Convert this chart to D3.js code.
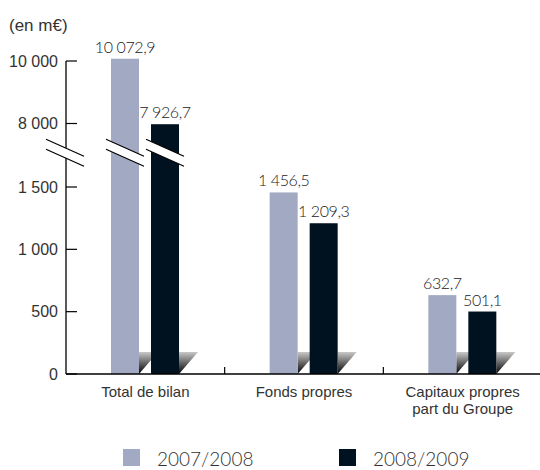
<!DOCTYPE html>
<html>
<head>
<meta charset="utf-8">
<script src="https://cdn.jsdelivr.net/npm/d3@7"></script>
<style>
  body { margin: 0; background: #fff; }
  .narrow { font-family: "Liberation Sans Narrow", "Arial Narrow", sans-serif; font-weight: normal; }
</style>
</head>
<body>
<div id="chart"></div>
<script>
// data
var categories = [["Total de bilan"], ["Fonds propres"], ["Capitaux propres", "part du Groupe"]];
var series = ["2007/2008", "2008/2009"];
var values2008 = [10072.9, 1456.5, 632.7];
var values2009 = [7926.7, 1209.3, 501.1];
var yTicks = [0, 500, 1000, 1500, 8000, 10000];
var breakValue = 5000;

var colors = ["#a2aac3", "#00111f"];

var fr = d3.formatLocale({ decimal: ",", thousands: " ", grouping: [3], currency: ["", "€"] });
var fmtTick = fr.format(",d");
var fmtVal = fr.format(",.1f");

var svg = d3.select("#chart").append("svg").attr("width", 540).attr("height", 470);

var defs = svg.append("defs");
var grad = defs.append("linearGradient").attr("id", "shadow").attr("x1", 0).attr("y1", 0).attr("x2", 0).attr("y2", 1);
grad.append("stop").attr("offset", "0%").attr("stop-color", "#c8c8c8");
grad.append("stop").attr("offset", "100%").attr("stop-color", "#000");

// scales (broken axis: two linear pieces)
var y = d3.scaleLinear().domain([0, 1500, 8000, 10000]).range([374, 187, 123.5, 61]);
var x0 = d3.scaleBand().domain(d3.range(categories.length)).range([66, 542]);
var x1 = d3.scaleBand().domain([0, 1]).range([45, 113]).paddingInner(0.3);

// y axis
var yAxis = d3.axisLeft(y).tickValues(yTicks).tickFormat(fmtTick).tickSize(0).tickPadding(8);
var gy = svg.append("g").attr("transform", "translate(66,0)").call(yAxis);
gy.select(".domain").remove();
gy.selectAll("text").attr("class", "narrow").attr("font-family", null)
  .attr("font-size", 16).attr("fill", "#333");
svg.append("line").attr("x1", 66).attr("x2", 66).attr("y1", y(10000)).attr("y2", y(0))
  .attr("stroke", "#000").attr("stroke-width", 1.3);
svg.selectAll(".ytick").data(yTicks).enter().append("line")
  .attr("x1", 66).attr("x2", 77).attr("y1", function(d){ return y(d); }).attr("y2", function(d){ return y(d); })
  .attr("stroke", "#000").attr("stroke-width", 1.2);

svg.append("text").attr("class", "narrow").attr("x", 9).attr("y", 31)
  .attr("font-size", 17).attr("fill", "#333").text("(en m\u20ac)");

// bars
var groups = svg.selectAll(".grp").data(categories).enter().append("g")
  .attr("transform", function(d, i){ return "translate(" + x0(i) + ",0)"; });

groups.each(function(d, i){
  var g = d3.select(this);
  var vals = [values2008[i], values2009[i]];
  vals.forEach(function(v, j){
    var bx = x1(j), bw = x1.bandwidth();
    // shadow
    g.append("polygon")
      .attr("points", [[bx + bw, 352], [bx + bw + 19, 352], [bx + bw, y(0)]].join(" "))
      .attr("fill", "url(#shadow)");
  });
  vals.forEach(function(v, j){
    g.append("rect").attr("x", x1(j)).attr("y", y(v))
      .attr("width", x1.bandwidth()).attr("height", y(0) - y(v))
      .attr("fill", colors[j]);
    g.append("text").attr("x", x1(j) + x1.bandwidth() / 2).attr("y", y(v) - 6)
      .attr("text-anchor", "middle").attr("font-family", "Lato, sans-serif").attr("font-weight", 300)
      .attr("font-size", 16).attr("fill", "#222").attr("letter-spacing", -0.4)
      .text(fmtVal(v));
  });
});

// break marks
function breakMark(cx) {
  var yb = y(breakValue);
  var dx = 19, dy = 8.5;
  svg.append("polygon")
    .attr("points", [[cx - dx, yb - 5 - dy], [cx + dx, yb - 5 + dy], [cx + dx, yb + 5 + dy], [cx - dx, yb + 5 - dy]].join(" "))
    .attr("fill", "#fff");
  [-5, 5].forEach(function(o){
    svg.append("line").attr("x1", cx - dx).attr("y1", yb + o - dy).attr("x2", cx + dx).attr("y2", yb + o + dy)
      .attr("stroke", "#000").attr("stroke-width", 1.2);
  });
}
breakMark(65);
values2008.forEach(function(v, i){
  [v, values2009[i]].forEach(function(w, j){
    if (w > breakValue) breakMark(x0(i) + x1(j) + x1.bandwidth() / 2);
  });
});

// x axis
svg.append("line").attr("x1", 66).attr("x2", 540).attr("y1", y(0)).attr("y2", y(0))
  .attr("stroke", "#000").attr("stroke-width", 1.5);
d3.range(1, categories.length).forEach(function(i){
  svg.append("line").attr("x1", x0(i)).attr("x2", x0(i)).attr("y1", y(0) - 7).attr("y2", y(0))
    .attr("stroke", "#000").attr("stroke-width", 1.2);
});
groups.each(function(d){
  var t = d3.select(this).append("text").attr("class", "narrow").attr("text-anchor", "middle")
    .attr("font-size", 15).attr("fill", "#333");
  d.forEach(function(line, k){
    t.append("tspan").attr("x", x0.bandwidth() / 2).attr("y", 397 + k * 17).text(line);
  });
});

// legend
var legendX = [123, 339];
series.forEach(function(s, i){
  svg.append("rect").attr("x", legendX[i]).attr("y", 449).attr("width", 17).attr("height", 17).attr("fill", colors[i]);
  svg.append("text").attr("x", legendX[i] + 34).attr("y", 466)
    .attr("font-family", "Lato, sans-serif").attr("font-weight", 300).attr("font-size", 19)
    .attr("fill", "#333").text(s);
});
</script>
</body>
</html>
